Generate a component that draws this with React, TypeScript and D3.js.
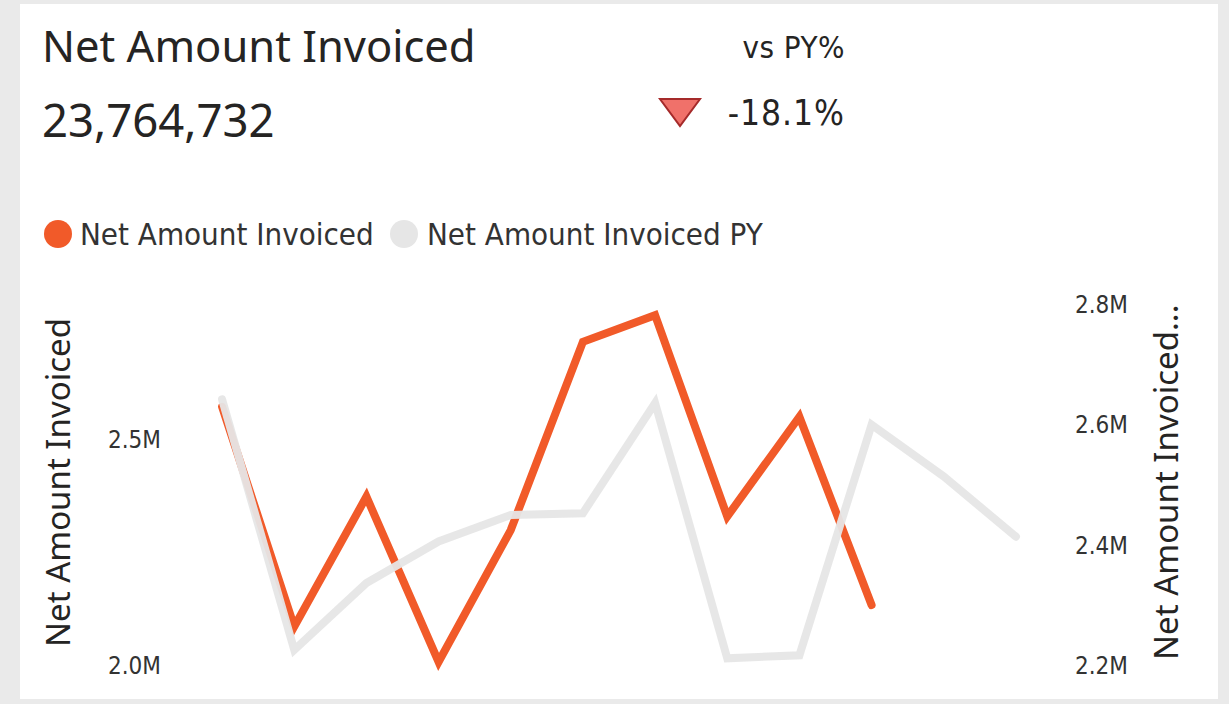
import React from "react";
import { scaleLinear, scalePoint, line, format } from "d3";

const months = ["Jan", "Feb", "Mar", "Apr", "May", "Jun", "Jul", "Aug", "Sep", "Oct", "Nov", "Dec"];
// current year, in units (only 10 months so far)
const netAmount = [2573000, 2086000, 2374000, 2008000, 2300000, 2717000, 2776000, 2330000, 2551000, 2134000];
// previous year, all 12 months
const netAmountPY = [2642000, 2226000, 2337000, 2406000, 2450000, 2453000, 2636000, 2212000, 2217000, 2600000, 2514000, 2414000];
const leftTicks = [2000000, 2500000];
const rightTicks = [2200000, 2400000, 2600000, 2800000];

const totalLabel = "23,764,732";
const vsPyLabel = "-18.1%";

const W = 1229;
const H = 704;
const segoe = "'Noto Sans', 'Open Sans', sans-serif";
const din = "'DejaVu Sans Condensed', 'Liberation Sans Narrow', Roboto, sans-serif";
const orange = "#F15A29";
const grey = "#E6E6E6";

export default function App() {
  const x = scalePoint<string>().domain(months).range([186, 1052]).padding(0.5);
  const yLeft = scaleLinear().domain([2000000, 2800000]).range([665.5, 304.3]);
  const yRight = scaleLinear().domain([2200000, 2800000]).range([665.5, 304.3]);
  const fmt = (v: number) => format(".1f")(v / 1e6) + "M";

  const curLine = line<number>()
    .x((d, i) => x(months[i]) as number)
    .y((d) => yLeft(d));
  const pyLine = line<number>()
    .x((d, i) => x(months[i]) as number)
    .y((d) => yRight(d));

  return (
    <svg
      width={W}
      height={H}
      style={{ position: "absolute", left: 0, top: 0, display: "block" }}
    >
      <rect width={W} height={H} fill="#EAEAEA" />
      <rect x={20} y={4} width={1198} height={695} fill="#ffffff" />

      <text x={42} y={62} fontFamily={segoe} fontSize={43.5} fill="#252423">
        Net Amount Invoiced
      </text>
      <text x={42} y={137} fontFamily={segoe} fontSize={45.5} fill="#252423">
        {totalLabel}
      </text>

      <text x={845} y={58} textAnchor="end" fontFamily={din} fontSize={31} letterSpacing={0.5} fill="#252423">
        vs PY%
      </text>
      <path d="M660,99 L700,99 L680,126 Z" fill="#F0716A" stroke="#A52A2A" strokeWidth={2} strokeLinejoin="miter" />
      <text x={845} y={125} textAnchor="end" fontFamily={din} fontSize={35} letterSpacing={1} fill="#252423">
        {vsPyLabel}
      </text>

      <g fontFamily={din} fontSize={31} fill="#333333">
        <circle cx={58} cy={234} r={14} fill={orange} />
        <text x={80} y={245}>Net Amount Invoiced</text>
        <circle cx={404} cy={234} r={14} fill={grey} />
        <text x={427} y={245}>Net Amount Invoiced PY</text>
      </g>

      <text
        transform="translate(70,647) rotate(-90)"
        fontFamily={segoe}
        fontSize={33}
        fill="#252423"
      >
        Net Amount Invoiced
      </text>
      <text
        transform="translate(1178,660) rotate(-90)"
        fontFamily={segoe}
        fontSize={33}
        fill="#252423"
      >
        Net Amount Invoiced...
      </text>

      <g fontFamily={din} fontSize={24} fill="#333333">
        {leftTicks.map((t) => (
          <text key={t} x={161} y={yLeft(t)} dy="0.35em" textAnchor="end">
            {fmt(t)}
          </text>
        ))}
        {rightTicks.map((t) => (
          <text key={t} x={1075} y={yRight(t)} dy="0.35em" textAnchor="start">
            {fmt(t)}
          </text>
        ))}
      </g>

      <path d={curLine(netAmount) ?? ""} fill="none" stroke={orange} strokeWidth={8} strokeLinecap="round" strokeLinejoin="miter" />
      <path d={pyLine(netAmountPY) ?? ""} fill="none" stroke={grey} strokeWidth={8} strokeLinecap="round" strokeLinejoin="miter" opacity={0.95} />
    </svg>
  );
}
